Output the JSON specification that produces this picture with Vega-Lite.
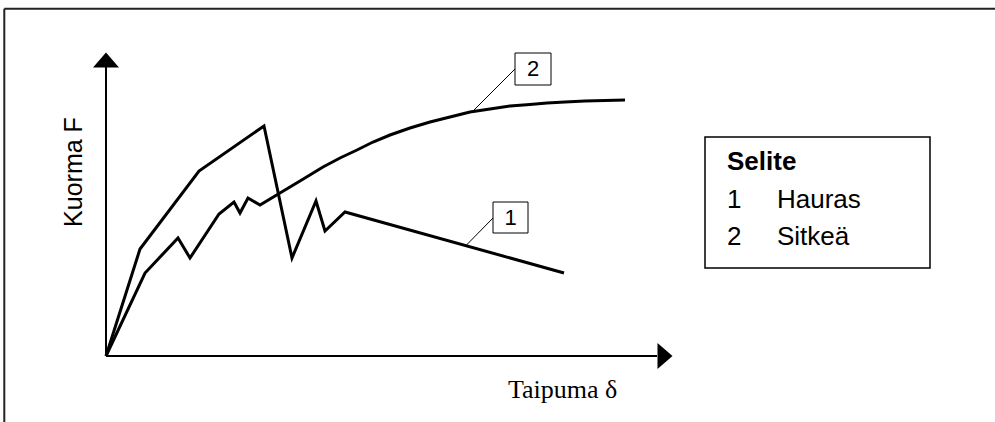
{
  "$schema": "https://vega.github.io/schema/vega-lite/v6.json",
  "autosize": "none",
  "padding": 0,
  "width": 995,
  "height": 422,
  "background": "white",
  "config": {"view": {"stroke": null}},
  "datasets": {
    "curves": [
      {"series": "1", "i": 0, "x": 0, "y": 0},
      {"series": "1", "i": 1, "x": 3.4, "y": 10.7},
      {"series": "1", "i": 2, "x": 9.3, "y": 18.5},
      {"series": "1", "i": 3, "x": 15.8, "y": 23.0},
      {"series": "1", "i": 4, "x": 18.6, "y": 9.8},
      {"series": "1", "i": 5, "x": 21.0, "y": 15.5},
      {"series": "1", "i": 6, "x": 21.9, "y": 12.5},
      {"series": "1", "i": 7, "x": 23.9, "y": 14.4},
      {"series": "1", "i": 8, "x": 45.8, "y": 8.3},
      {"series": "2", "i": 0, "x": 0, "y": 0},
      {"series": "2", "i": 1, "x": 3.9, "y": 8.3},
      {"series": "2", "i": 2, "x": 7.2, "y": 11.8},
      {"series": "2", "i": 3, "x": 8.4, "y": 9.8},
      {"series": "2", "i": 4, "x": 11.3, "y": 14.2},
      {"series": "2", "i": 5, "x": 12.8, "y": 15.4},
      {"series": "2", "i": 6, "x": 13.4, "y": 14.3},
      {"series": "2", "i": 7, "x": 14.2, "y": 15.8},
      {"series": "2", "i": 8, "x": 15.4, "y": 15.1},
      {"series": "2", "i": 9, "x": 17.4, "y": 16.3},
      {"series": "2", "i": 10, "x": 19.4, "y": 17.5},
      {"series": "2", "i": 11, "x": 21.7, "y": 18.9},
      {"series": "2", "i": 12, "x": 23.4, "y": 19.8},
      {"series": "2", "i": 13, "x": 25.1, "y": 20.6},
      {"series": "2", "i": 14, "x": 26.7, "y": 21.4},
      {"series": "2", "i": 15, "x": 28.4, "y": 22.1},
      {"series": "2", "i": 16, "x": 30.4, "y": 22.8},
      {"series": "2", "i": 17, "x": 32.4, "y": 23.4},
      {"series": "2", "i": 18, "x": 34.4, "y": 23.9},
      {"series": "2", "i": 19, "x": 36.4, "y": 24.4},
      {"series": "2", "i": 20, "x": 38.4, "y": 24.7},
      {"series": "2", "i": 21, "x": 40.4, "y": 25.0},
      {"series": "2", "i": 22, "x": 42.4, "y": 25.15},
      {"series": "2", "i": 23, "x": 44.1, "y": 25.3},
      {"series": "2", "i": 24, "x": 45.9, "y": 25.4},
      {"series": "2", "i": 25, "x": 47.9, "y": 25.5},
      {"series": "2", "i": 26, "x": 49.9, "y": 25.55},
      {"series": "2", "i": 27, "x": 51.9, "y": 25.6}
    ],
    "frame": [
      {"x": -10.17, "y": 34.73, "x2": -10.17, "y2": -6.7},
      {"x": -10.17, "y": 34.73, "x2": 89.0, "y2": 34.73}
    ],
    "axes": [
      {"x": 0, "y": 0, "x2": 0, "y2": 28.9},
      {"x": 0, "y": 0, "x2": 55.1, "y2": 0}
    ],
    "arrows": [
      {"x": 0, "y": 29.6, "dir": "up"},
      {"x": 55.9, "y": 0, "dir": "right"}
    ],
    "leaders": [
      {"x": 40.9, "y": 28.7, "x2": 36.6, "y2": 24.4},
      {"x": 38.7, "y": 13.8, "x2": 36.0, "y2": 11.05}
    ],
    "tagboxes": [
      {"x": 40.9, "x2": 44.5, "y": 30.3, "y2": 27.1, "label": "2"},
      {"x": 38.7, "x2": 42.2, "y": 15.4, "y2": 12.3, "label": "1"}
    ],
    "tags": [
      {"x": 42.7, "y": 28.7, "label": "2"},
      {"x": 40.45, "y": 13.85, "label": "1"}
    ],
    "legendbox": [
      {"x": 59.9, "x2": 82.4, "y": 21.9, "y2": 8.8}
    ],
    "legendtitle": [
      {"x": 62.1, "y": 18.6, "label": "Selite"}
    ],
    "legenditems": [
      {"x": 62.1, "y": 14.8, "label": "1"},
      {"x": 67.1, "y": 14.8, "label": "Hauras"},
      {"x": 62.1, "y": 11.1, "label": "2"},
      {"x": 67.1, "y": 11.1, "label": "Sitkeä"}
    ],
    "ylabel": [
      {"x": -2.4, "y": 18.4, "label": "Kuorma F"}
    ],
    "xlabel": [
      {"x": 40.2, "y": -4.2, "label": "Taipuma δ"}
    ]
  },
  "encoding": {
    "x": {"field": "x", "type": "quantitative", "scale": {"domain": [-10.6, 88.9], "nice": false, "zero": false}, "axis": null},
    "y": {"field": "y", "type": "quantitative", "scale": {"domain": [-6.6, 35.6], "nice": false, "zero": false}, "axis": null}
  },
  "layer": [
    {
      "data": {"name": "frame"},
      "mark": {"type": "rule", "color": "#222222", "strokeWidth": 2},
      "encoding": {"x2": {"field": "x2"}, "y2": {"field": "y2"}}
    },
    {
      "data": {"name": "axes"},
      "mark": {"type": "rule", "color": "black", "strokeWidth": 2},
      "encoding": {"x2": {"field": "x2"}, "y2": {"field": "y2"}}
    },
    {
      "data": {"name": "arrows"},
      "mark": {"type": "point", "filled": true, "opacity": 1, "color": "black", "size": 676, "strokeWidth": 0},
      "encoding": {
        "shape": {"field": "dir", "type": "nominal", "legend": null,
          "scale": {"domain": ["up", "right"], "range": ["M0,-0.577L1,0.577L-1,0.577Z", "M0.577,0L-0.577,-1L-0.577,1Z"]}}
      }
    },
    {
      "data": {"name": "curves"},
      "mark": {"type": "line", "color": "black", "strokeWidth": 3, "strokeJoin": "miter", "strokeCap": "butt"},
      "encoding": {
        "detail": {"field": "series", "type": "nominal"},
        "order": {"field": "i", "type": "quantitative"}
      }
    },
    {
      "data": {"name": "leaders"},
      "mark": {"type": "rule", "color": "black", "strokeWidth": 1},
      "encoding": {"x2": {"field": "x2"}, "y2": {"field": "y2"}}
    },
    {
      "data": {"name": "tagboxes"},
      "mark": {"type": "rect", "fill": "white", "stroke": "black", "strokeWidth": 1},
      "encoding": {"x2": {"field": "x2"}, "y2": {"field": "y2"}}
    },
    {
      "data": {"name": "tags"},
      "mark": {"type": "text", "font": "Liberation Sans", "fontSize": 22, "align": "center", "baseline": "middle", "color": "black"},
      "encoding": {"text": {"field": "label"}}
    },
    {
      "data": {"name": "legendbox"},
      "mark": {"type": "rect", "fill": "white", "stroke": "black", "strokeWidth": 1.5},
      "encoding": {"x2": {"field": "x2"}, "y2": {"field": "y2"}}
    },
    {
      "data": {"name": "legendtitle"},
      "mark": {"type": "text", "font": "Liberation Sans", "fontSize": 26, "fontWeight": "bold", "align": "left", "baseline": "alphabetic", "color": "black"},
      "encoding": {"text": {"field": "label"}}
    },
    {
      "data": {"name": "legenditems"},
      "mark": {"type": "text", "font": "Liberation Sans", "fontSize": 26, "align": "left", "baseline": "alphabetic", "color": "black"},
      "encoding": {"text": {"field": "label"}}
    },
    {
      "data": {"name": "ylabel"},
      "mark": {"type": "text", "font": "Liberation Sans", "fontSize": 25, "angle": 270, "align": "center", "baseline": "alphabetic", "color": "black"},
      "encoding": {"text": {"field": "label"}}
    },
    {
      "data": {"name": "xlabel"},
      "mark": {"type": "text", "font": "Liberation Serif", "fontSize": 26, "align": "left", "baseline": "alphabetic", "color": "black"},
      "encoding": {"text": {"field": "label"}}
    }
  ]
}
